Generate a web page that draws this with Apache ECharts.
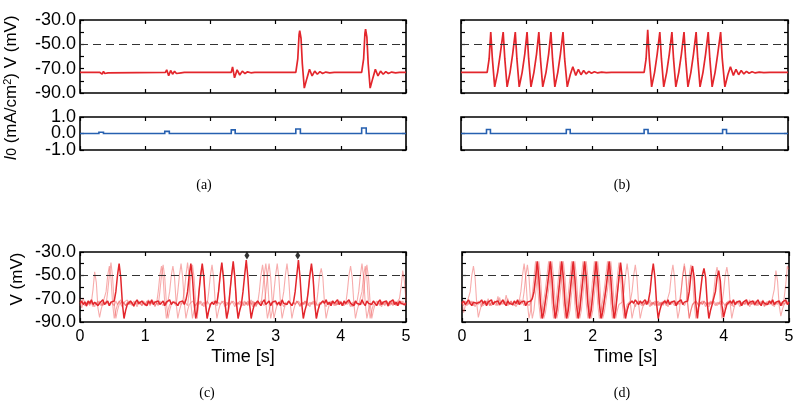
<!DOCTYPE html>
<html><head><meta charset="utf-8">
<script src="https://cdn.jsdelivr.net/npm/echarts/dist/echarts.min.js"></script>
<style>html,body{margin:0;padding:0;background:#fff}#c{width:800px;height:407px}</style>
</head><body><div id="c"></div>
<script>
// ---------------- data ----------------
const timeTicks = [0, 1, 2, 3, 4, 5];
const vTickLabels = { '-30': '-30.0', '-50': '-50.0', '-70': '-70.0', '-90': '-90.0' };
const iEdgeLabels = { '1': '1.0', '-1': '-1.0' };
const iMidLabels = { '0': '0.0' };
const threshold = -50;
const captions = ['(a)', '(b)', '(c)', '(d)'];

// (a) membrane voltage and input current
const vA = [[0,-73],[0.30,-73],[0.32,-72],[0.34,-74.5],[0.36,-72.3],[0.38,-74],[0.40,-72.7],[0.43,-73.5],[0.46,-73],
[1.31,-73],[1.33,-71],[1.36,-75.8],[1.39,-71.5],[1.42,-74.5],[1.45,-72.2],[1.48,-74],[1.51,-72.6],[1.55,-73.4],[1.60,-73],
[2.32,-73],[2.34,-68.5],[2.37,-77.5],[2.41,-71],[2.45,-75.2],[2.49,-72],[2.53,-74],[2.57,-72.6],[2.62,-73.4],[2.68,-73],
[3.31,-73],[3.34,-62],[3.36,-42],[3.37,-38.8],[3.39,-45],[3.41,-66],[3.44,-86],[3.48,-78],[3.52,-70.5],[3.56,-76],[3.60,-72],[3.64,-74.6],[3.68,-72.4],[3.72,-74],[3.77,-72.8],[3.83,-73.4],[3.9,-73],
[4.32,-73],[4.35,-62],[4.37,-41],[4.38,-37.5],[4.40,-44],[4.42,-66],[4.45,-86],[4.49,-78],[4.53,-70.5],[4.57,-76],[4.61,-72],[4.65,-74.6],[4.69,-72.4],[4.73,-74],[4.78,-72.8],[4.84,-73.4],[4.9,-73],[5,-73]];
const iA = [[0,0],[0.29,0],[0.29,0.08],[0.36,0.08],[0.36,0],[1.30,0],[1.30,0.13],[1.37,0.13],[1.37,0],[2.32,0],[2.32,0.22],[2.38,0.22],[2.38,0],[3.31,0],[3.31,0.27],[3.38,0.27],[3.38,0],[4.32,0],[4.32,0.33],[4.39,0.33],[4.39,0],[5,0]];

// (b) bursting voltage and input current
const vB = [[0,-73],[0.40,-73],[0.43,-62],[0.455,-40],
[0.48,-62],[0.515,-85],[0.56,-73],[0.60,-58],[0.645,-40],
[0.67,-62],[0.705,-85],[0.75,-73],[0.79,-58],[0.83,-40],
[0.855,-62],[0.89,-85],[0.935,-73],[0.975,-58],[1.01,-40],
[1.035,-62],[1.07,-85],[1.115,-73],[1.155,-58],[1.19,-40],
[1.215,-62],[1.25,-85],[1.30,-73],[1.34,-58],[1.375,-40],
[1.40,-62],[1.435,-85],[1.48,-73],[1.52,-58],[1.56,-40],
[1.585,-62],[1.625,-85],[1.67,-75],[1.71,-68.4],[1.755,-75.5],[1.795,-70.5],[1.835,-75],[1.875,-71.5],[1.915,-74.3],[1.955,-72.2],[1.995,-73.8],[2.04,-72.5],[2.09,-73.5],[2.15,-72.8],[2.22,-73.2],[2.30,-73],
[2.80,-73],[2.83,-62],[2.855,-38],
[2.88,-62],[2.915,-85],[2.96,-73],[3.00,-58],[3.04,-40],
[3.065,-62],[3.10,-85],[3.145,-73],[3.185,-58],[3.225,-40],
[3.25,-62],[3.285,-85],[3.33,-73],[3.37,-58],[3.41,-40],
[3.435,-62],[3.47,-85],[3.515,-73],[3.555,-58],[3.595,-40],
[3.62,-62],[3.655,-85],[3.70,-73],[3.74,-58],[3.78,-40],
[3.805,-62],[3.84,-85],[3.885,-73],[3.925,-58],[3.97,-40],
[3.995,-62],[4.035,-85],[4.08,-75],[4.12,-68.4],[4.165,-75.5],[4.205,-70.5],[4.245,-75],[4.285,-71.5],[4.325,-74.3],[4.365,-72.2],[4.405,-73.8],[4.45,-72.5],[4.50,-73.5],[4.56,-72.8],[4.63,-73.2],[4.72,-73],[5,-73]];
const iB = [[0,0],[0.39,0],[0.39,0.24],[0.45,0.24],[0.45,0],[1.61,0],[1.61,0.24],[1.67,0.24],[1.67,0],[2.80,0],[2.80,0.24],[2.86,0.24],[2.86,0],[4.00,0],[4.00,0.24],[4.06,0.24],[4.06,0],[5,0]];

// (c), (d) recorded trials, sampled every DT seconds
const DT = 0.025;
const vCdark = [
-74,-72,-75,-73,-76,-72,-74,-71,-75,-73,
-72,-76,-74,-73,-71,-75,-74,-72,-76,-73,
-74,-72,-64,-50,-40,-52,-74,-87,-80,-75,
-75,-72,-74,-76,-73,-71,-74,-75,-72,-74,
-73,-76,-72,-74,-71,-75,-73,-74,-72,-75,
-74,-72,-76,-73,-74,-71,-75,-73,-72,-74,
-76,-73,-74,-72,-75,-71,-64,-50,-40,-52,
-74,-87,-80,-64,-50,-40,-52,-74,-87,-80,
-75,-73,-75,-72,-74,-64,-50,-39,-52,-74,
-87,-80,-64,-50,-38,-52,-74,-87,-80,-75,
-64,-50,-37,-52,-74,-87,-80,-75,-75,-72,
-74,-76,-73,-71,-75,-74,-72,-76,-73,-74,
-72,-75,-73,-76,-71,-74,-73,-75,-72,-74,
-76,-73,-64,-50,-37,-52,-74,-87,-80,-75,
-64,-50,-40,-52,-74,-87,-80,-75,-75,-72,
-74,-71,-75,-73,-76,-72,-74,-73,-71,-75,
-73,-76,-72,-74,-75,-71,-74,-73,-76,-72,
-74,-73,-75,-71,-74,-76,-72,-74,-73,-75,
-72,-74,-76,-73,-71,-75,-73,-74,-72,-76,
-73,-74,-71,-75,-73,-76,-72,-74,-73,-75,
-74];
const vCl1 = [
-76,-73,-70,-74,-77,-72,-75,-73,-62,-47,
-56,-78,-86,-79,-74,-75,-64,-50,-42,-52,
-74,-87,-80,-75,-72,-75,-77,-73,-74,-71,
-75,-73,-76,-72,-74,-77,-73,-75,-72,-74,
-76,-73,-71,-75,-74,-72,-76,-74,-64,-50,
-42,-52,-74,-87,-80,-75,-75,-72,-74,-76,
-64,-50,-40,-52,-74,-87,-80,-75,-75,-72,
-74,-76,-73,-75,-72,-74,-77,-73,-75,-64,
-50,-41,-52,-74,-87,-80,-75,-75,-72,-74,
-76,-73,-75,-72,-74,-77,-73,-75,-72,-74,
-76,-73,-75,-72,-74,-71,-75,-73,-76,-74,
-64,-50,-41,-52,-74,-87,-80,-75,-75,-72,
-74,-76,-73,-75,-72,-64,-50,-40,-52,-74,
-87,-80,-75,-75,-72,-74,-76,-73,-75,-72,
-74,-77,-73,-75,-72,-74,-76,-73,-75,-72,
-74,-71,-75,-73,-76,-72,-74,-73,-75,-72,
-74,-76,-73,-75,-64,-50,-42,-52,-74,-87,
-80,-75,-75,-64,-50,-42,-52,-74,-87,-80,
-75,-75,-72,-74,-76,-73,-75,-72,-74,-77,
-73,-75,-72,-74,-76,-73,-75,-72,-74,-76,
-73];
const vCl2 = [
-70,-78,-74,-72,-75,-73,-76,-72,-74,-77,
-73,-75,-72,-74,-76,-73,-75,-64,-50,-39,
-52,-74,-87,-80,-75,-75,-72,-74,-76,-73,
-75,-72,-74,-77,-73,-75,-72,-74,-76,-73,
-75,-72,-74,-76,-73,-75,-72,-74,-76,-64,
-50,-41,-52,-74,-87,-80,-75,-75,-72,-74,
-76,-73,-75,-72,-64,-50,-39,-52,-74,-87,
-80,-75,-75,-72,-74,-76,-73,-75,-72,-74,
-76,-73,-75,-72,-74,-64,-50,-40,-52,-74,
-87,-80,-75,-75,-72,-74,-76,-73,-75,-72,
-74,-76,-73,-75,-72,-74,-77,-73,-75,-72,
-74,-76,-64,-50,-40,-52,-74,-87,-80,-64,
-50,-40,-52,-74,-87,-80,-75,-75,-72,-74,
-76,-73,-75,-72,-74,-77,-73,-75,-72,-74,
-76,-73,-75,-72,-74,-76,-64,-50,-44,-52,
-74,-87,-80,-75,-75,-72,-74,-76,-73,-75,
-72,-74,-76,-73,-75,-72,-74,-77,-73,-75,
-72,-64,-50,-40,-52,-74,-87,-80,-75,-75,
-72,-74,-76,-73,-75,-72,-74,-76,-73,-75,
-72,-74,-76,-73,-75,-72,-70,-60,-46,-55,
-72];
const vCl3 = [
-75,-72,-74,-76,-73,-75,-72,-74,-77,-73,
-75,-72,-74,-76,-73,-75,-72,-74,-76,-73,
-73,-76,-72,-75,-74,-71,-75,-73,-76,-74,
-72,-75,-73,-77,-74,-72,-75,-73,-76,-72,
-74,-76,-73,-75,-72,-74,-77,-73,-75,-72,
-74,-76,-73,-75,-72,-64,-50,-42,-52,-74,
-87,-80,-75,-75,-72,-74,-76,-64,-50,-41,
-52,-74,-87,-64,-50,-42,-52,-74,-87,-80,
-75,-75,-72,-74,-76,-73,-75,-72,-74,-77,
-73,-75,-64,-50,-41,-52,-74,-87,-80,-75,
-75,-72,-74,-76,-73,-75,-72,-74,-77,-73,
-75,-72,-74,-76,-64,-50,-40,-52,-74,-87,
-80,-75,-75,-72,-74,-77,-73,-75,-72,-74,
-76,-73,-75,-72,-74,-76,-73,-75,-72,-74,
-64,-50,-43,-52,-74,-87,-80,-75,-75,-72,
-74,-77,-73,-75,-72,-74,-76,-73,-75,-72,
-74,-76,-73,-75,-72,-74,-77,-73,-75,-72,
-74,-76,-73,-75,-64,-50,-41,-52,-74,-87,
-80,-75,-75,-72,-74,-77,-73,-75,-72,-74,
-76,-73,-75,-72,-74,-76,-73,-75,-72,-74,
-76];
const vDdark = [
-74,-72,-75,-73,-71,-74,-76,-73,-72,-74,
-75,-73,-71,-74,-72,-76,-73,-74,-71,-75,
-73,-74,-72,-75,-73,-71,-74,-76,-72,-74,
-73,-75,-72,-74,-71,-75,-73,-74,-72,-76,
-73,-74,-72,-70,-64,-52,-38,-52,-74,-87,
-82,-72,-62,-50,-38,-52,-74,-87,-80,-66,
-52,-38,-52,-74,-87,-80,-66,-52,-38,-52,
-74,-87,-80,-66,-52,-38,-52,-74,-87,-80,
-66,-52,-38,-52,-74,-87,-82,-72,-62,-50,
-38,-52,-74,-87,-80,-66,-52,-39,-52,-74,
-87,-80,-75,-75,-72,-74,-71,-73,-75,-72,
-74,-73,-71,-75,-72,-64,-50,-40,-52,-74,
-87,-80,-75,-75,-72,-74,-71,-75,-73,-74,
-72,-76,-73,-74,-71,-75,-73,-74,-72,-64,
-50,-42,-52,-74,-87,-74,-62,-50,-44,-52,
-74,-87,-80,-75,-75,-64,-52,-46,-55,-76,
-86,-80,-75,-75,-72,-74,-71,-75,-73,-74,
-72,-76,-73,-74,-71,-75,-73,-74,-72,-75,
-73,-71,-74,-76,-72,-74,-73,-75,-72,-74,
-71,-75,-73,-74,-72,-76,-73,-74,-71,-75,
-73];
const vDl1 = [
-73,-76,-72,-74,-75,-64,-50,-42,-52,-74,
-86,-80,-75,-75,-72,-74,-70,-76,-73,-75,
-72,-74,-68,-76,-73,-75,-72,-74,-70,-75,
-73,-76,-72,-74,-75,-73,-71,-74,-64,-50,
-41,-52,-74,-87,-80,-66,-52,-38,-52,-74,
-87,-82,-72,-62,-50,-38,-52,-74,-87,-80,
-66,-52,-38,-52,-74,-87,-80,-66,-52,-38,
-52,-74,-87,-80,-66,-52,-38,-52,-74,-87,
-80,-66,-52,-38,-52,-74,-87,-82,-72,-62,
-50,-38,-52,-74,-87,-80,-75,-75,-73,-64,
-50,-40,-52,-74,-87,-80,-75,-75,-72,-74,
-76,-73,-75,-72,-74,-71,-75,-73,-76,-74,
-72,-75,-73,-76,-71,-74,-73,-64,-50,-41,
-52,-74,-87,-80,-64,-50,-42,-52,-74,-87,
-80,-75,-75,-72,-74,-76,-73,-75,-72,-74,
-74,-77,-73,-75,-72,-74,-76,-73,-75,-72,
-74,-76,-73,-75,-72,-74,-77,-73,-75,-72,
-74,-76,-73,-75,-72,-74,-71,-75,-73,-76,
-72,-74,-73,-75,-71,-76,-73,-74,-72,-75,
-74,-62,-46,-55,-76,-85,-79,-75,-76,-72,
-74];
const vDl2 = [
-72,-82,-76,-73,-75,-72,-74,-76,-73,-75,
-72,-74,-77,-73,-75,-72,-74,-76,-73,-75,
-72,-74,-76,-69,-75,-72,-74,-67,-73,-75,
-72,-74,-76,-73,-75,-72,-64,-50,-40,-52,
-74,-87,-80,-66,-52,-38,-52,-74,-87,-82,
-72,-62,-50,-38,-52,-74,-87,-80,-66,-52,
-38,-52,-74,-87,-80,-66,-52,-38,-52,-74,
-87,-80,-66,-52,-38,-52,-74,-87,-80,-66,
-52,-38,-52,-74,-87,-82,-72,-62,-50,-38,
-52,-74,-87,-80,-66,-52,-39,-52,-74,-87,
-80,-75,-75,-72,-64,-50,-41,-52,-74,-87,
-80,-75,-75,-72,-74,-77,-73,-75,-72,-74,
-76,-73,-75,-72,-74,-76,-73,-75,-72,-74,
-76,-73,-75,-72,-64,-50,-40,-52,-74,-87,
-80,-75,-75,-72,-74,-77,-73,-75,-72,-74,
-76,-73,-75,-72,-74,-76,-73,-75,-72,-74,
-64,-50,-43,-52,-74,-87,-80,-75,-75,-72,
-74,-76,-73,-75,-72,-74,-77,-73,-75,-72,
-74,-76,-73,-75,-72,-74,-76,-73,-75,-72,
-74,-77,-73,-75,-72,-74,-76,-70,-58,-42,
-45];
const vDl3 = [
-75,-72,-74,-76,-73,-75,-72,-74,-77,-73,
-75,-72,-74,-76,-73,-75,-72,-74,-76,-73,
-73,-76,-72,-75,-74,-71,-75,-73,-76,-74,
-72,-75,-73,-77,-74,-72,-75,-73,-76,-72,
-74,-76,-73,-72,-66,-54,-40,-54,-75,-85,
-80,-72,-62,-51,-40,-54,-75,-85,-79,-66,
-53,-40,-54,-75,-85,-79,-66,-53,-40,-54,
-75,-85,-79,-66,-53,-40,-54,-75,-85,-79,
-66,-53,-40,-54,-75,-85,-80,-72,-62,-51,
-40,-54,-75,-85,-79,-66,-53,-41,-54,-75,
-85,-79,-75,-75,-72,-74,-77,-73,-75,-72,
-74,-76,-73,-75,-72,-74,-76,-73,-75,-72,
-74,-76,-73,-75,-72,-74,-77,-73,-75,-72,
-74,-76,-73,-75,-72,-74,-76,-73,-64,-50,
-41,-52,-74,-87,-80,-75,-75,-72,-74,-77,
-73,-75,-72,-74,-64,-50,-43,-52,-74,-87,
-80,-75,-75,-72,-74,-76,-73,-75,-72,-74,
-77,-73,-75,-72,-74,-76,-73,-75,-72,-74,
-76,-73,-75,-72,-74,-77,-73,-75,-72,-74,
-76,-73,-75,-72,-74,-76,-73,-75,-72,-74,
-75];
const spikeMarkT = [2.56, 3.34];
const spikeMarkV = [-33, -33];

// ---------------- chart ----------------
const toPairs = arr => arr.map((v, i) => [Math.round(i * DT * 1000) / 1000, v]);
const F = 'Liberation Sans';
const RED = '#e3262c';
const LIGHT = 'rgba(238,70,70,0.45)';
const BLUE = '#2660b0';

const gridDefs = [
  { left: 80, top: 20, width: 326, height: 73 },
  { left: 80, top: 117, width: 326, height: 33 },
  { left: 461, top: 20, width: 327, height: 73 },
  { left: 461, top: 117, width: 327, height: 33 },
  { left: 80, top: 252, width: 326, height: 70 },
  { left: 462, top: 252, width: 327, height: 70 }
];
const grids = gridDefs.map(g => Object.assign({ show: true, borderColor: '#000', borderWidth: 1.6, backgroundColor: 'transparent', containLabel: false }, g));
const mkTick = () => ({ show: true, inside: true, length: 4, lineStyle: { color: '#000', width: 1.2 } });
const noLine = () => ({ show: false, onZero: false });
const yLabel = (show, lab) => ({ show: show, color: '#000', fontSize: 18, fontFamily: F, margin: 4,
  showMinLabel: true, showMaxLabel: true, hideOverlap: false,
  formatter: v => (lab[String(v)] !== undefined ? lab[String(v)] : '') });
const xAxes = [], yAxes = [];
gridDefs.forEach((g, k) => {
  const showX = k >= 4;
  const isV = !(k === 1 || k === 3);
  const showY = (k === 0 || k === 1 || k === 4);
  xAxes.push({ gridIndex: k, type: 'value', min: timeTicks[0], max: timeTicks[timeTicks.length - 1], interval: 1, position: 'bottom',
    axisLine: noLine(), axisTick: mkTick(), splitLine: { show: false },
    axisLabel: { show: showX, color: '#000', fontSize: 16, fontFamily: F, margin: 7, showMinLabel: true, showMaxLabel: true, hideOverlap: false },
    name: showX ? 'Time [s]' : '', nameLocation: 'middle', nameGap: 26,
    nameTextStyle: { color: '#000', fontSize: 18, fontFamily: F } });
  xAxes.push({ gridIndex: k, type: 'value', min: 0, max: 5, interval: 1, position: 'top',
    axisLine: noLine(), axisTick: mkTick(), splitLine: { show: false }, axisLabel: { show: false } });
  const yb = isV ? { min: -90, max: -30, interval: 10 } : { min: -1, max: 1, interval: 1 };
  yAxes.push(Object.assign({ gridIndex: k, type: 'value', position: 'left',
    axisLine: noLine(), axisTick: mkTick(), splitLine: { show: false },
    axisLabel: yLabel(showY, isV ? vTickLabels : iEdgeLabels) }, yb));
  yAxes.push(Object.assign({ gridIndex: k, type: 'value', position: 'right',
    axisLine: noLine(), axisTick: mkTick(), splitLine: { show: false }, axisLabel: { show: false } }, yb));
});
// separate label axis for the middle current tick label of panel (a)
yAxes.push({ gridIndex: 1, type: 'value', position: 'left', min: -1, max: 1, interval: 1,
  axisLine: noLine(), axisTick: { show: false }, splitLine: { show: false }, axisLabel: yLabel(true, iMidLabels) });

const dashLine = () => ({ silent: true, symbol: 'none', label: { show: false },
  lineStyle: { color: '#333', type: [8, 5], width: 1.1 }, data: [{ yAxis: threshold }] });
const line = (k, data, color, width, extra) => Object.assign({ type: 'line', xAxisIndex: 2 * k, yAxisIndex: 2 * k,
  data: data, showSymbol: false, symbol: 'none', lineStyle: { color: color, width: width }, z: 2 }, extra || {});
// current traces: drawn as one polyline through the axis coordinates (keeps tiny pulses visible)
const pulseTrace = (k, pts, color) => ({ type: 'custom', xAxisIndex: 2 * k, yAxisIndex: 2 * k, data: pts, z: 2,
  encode: { x: 0, y: 1 },
  renderItem: (params, api) => {
    if (params.dataIndex !== 0) return null;
    return { type: 'polyline', shape: { points: pts.map(p => api.coord(p)) },
      style: { stroke: color, lineWidth: 1.6, fill: null, lineJoin: 'miter' } };
  } });

const series = [
  line(0, vA, RED, 1.7, { markLine: dashLine() }),
  pulseTrace(1, iA, BLUE),
  line(2, vB, RED, 1.7, { markLine: dashLine() }),
  pulseTrace(3, iB, BLUE),
  line(4, toPairs(vCl1), LIGHT, 1.1),
  line(4, toPairs(vCl2), LIGHT, 1.1),
  line(4, toPairs(vCl3), LIGHT, 1.1),
  line(4, toPairs(vCdark), RED, 1.5, { markLine: dashLine() }),
  { type: 'scatter', xAxisIndex: 8, yAxisIndex: 8, data: spikeMarkT.map((t, i) => [t, spikeMarkV[i]]),
    symbol: 'diamond', symbolSize: [5, 8], itemStyle: { color: '#000' }, z: 5 },
  line(5, toPairs(vDl1), LIGHT, 1.1),
  line(5, toPairs(vDl2), LIGHT, 1.1),
  line(5, toPairs(vDl3), LIGHT, 1.1),
  line(5, toPairs(vDdark), RED, 1.5, { markLine: dashLine() })
];

const capStyle = { fontFamily: 'Liberation Serif', fontSize: 14, fill: '#000', align: 'center', verticalAlign: 'middle' };
const capPos = [[204, 185], [622, 185], [207, 393], [622, 393]];
const graphic = captions.map((c, i) => ({ type: 'text', x: capPos[i][0], y: capPos[i][1], style: Object.assign({ text: c }, capStyle) }));
graphic.push({ type: 'text', x: 11, y: 88, rotation: Math.PI / 2,
  style: { text: '{i|I}{sub|0} (mA/cm{sup|2}) V (mV)', fontFamily: F, fontSize: 17, fill: '#000', align: 'center', verticalAlign: 'middle',
    rich: { i: { fontStyle: 'italic', fontFamily: F, fontSize: 17 }, sub: { fontFamily: F, fontSize: 14, verticalAlign: 'bottom' },
      sup: { fontFamily: F, fontSize: 11, verticalAlign: 'top' } } } });
graphic.push({ type: 'text', x: 17, y: 279, rotation: Math.PI / 2,
  style: { text: 'V (mV)', fontFamily: F, fontSize: 17, fill: '#000', align: 'center', verticalAlign: 'middle' } });

const chart = echarts.init(document.getElementById('c'), null, { renderer: 'canvas' });
chart.setOption({ animation: false, backgroundColor: '#fff', grid: grids, xAxis: xAxes, yAxis: yAxes, series: series, graphic: graphic });
</script></body></html>
